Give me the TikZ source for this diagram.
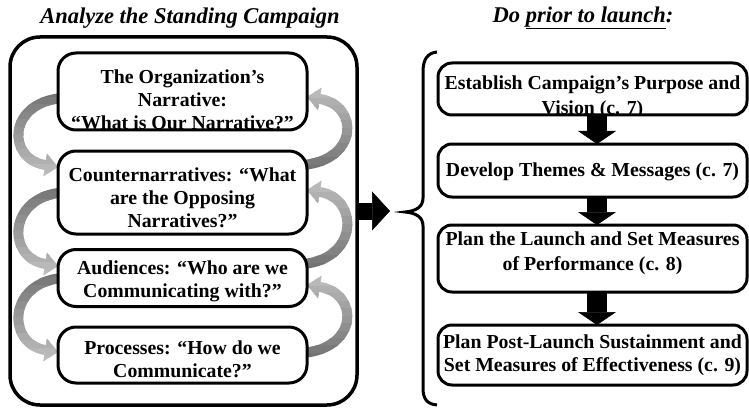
\documentclass[tikz,border=0pt]{standalone}
\usepackage{fontspec}
\setmainfont{Liberation Serif}
\usetikzlibrary{arrows.meta}
\tikzset{
  boxfill/.style={rectangle, rounded corners=#1, fill=white, inner sep=0pt, outer sep=0pt},
  border/.style={line width=3pt, rounded corners=#1},
  txt/.style={align=center, inner sep=0pt, font=\fontsize{19.8}{23}\selectfont\bfseries},
  ttl/.style={inner sep=0pt, font=\fontsize{22.5}{24}\selectfont\bfseries\itshape},
  grayarc/.style={line width=10pt, -{Triangle[width=23pt,length=13pt,line width=0.5pt]}},
  blockarrow/.style={line width=20pt, -{Triangle[width=38pt,length=13pt,line width=0.5pt]}}
}
\newcommand{\shadedarc}[5]{%
  \foreach \k in {0,...,11}{%
    \pgfmathsetmacro{\ya}{#1+(#2-#1)*\k/12-0.3}%
    \pgfmathsetmacro{\yb}{#1+(#2-#1)*(\k+1)/12+0.3}%
    \pgfmathtruncatemacro{\pc}{#3+(#4-#3)*\k/11}%
    \begin{scope}
      \clip (0,\ya) rectangle (749,\yb);
      \draw[grayarc, draw=black!\pc] #5;
    \end{scope}}}
\begin{document}
\begin{tikzpicture}[x=1pt,y=-1pt]
\useasboundingbox (0,0) rectangle (749,409);

% titles
\node[ttl] (t1) at (190,18) {Analyze the Standing Campaign};
\node[ttl] (t2) at (583,18) {Do \underline{prior to launch}:};

% outer box
\node[boxfill=30pt, draw, line width=3.5pt, minimum width=347pt, minimum height=368pt] (outer) at (183.5,221) {};

% inner boxes (fills)
\node[boxfill=18pt, minimum width=249pt, minimum height=77pt] (b1) at (182.5,91.5) {};
\node[boxfill=18pt, minimum width=249pt, minimum height=83pt] (b2) at (182.5,192.5) {};
\node[boxfill=18pt, minimum width=249pt, minimum height=57pt] (b3) at (182.5,278) {};
\node[boxfill=18pt, minimum width=249pt, minimum height=56pt] (b4) at (182.5,355) {};

% gray curved arrows, left side (downwards)
\shadedarc{90}{180}{55}{26}{([shift={(4pt,-6.5pt)}]b1.west) .. controls +(-55,5) and +(-51,-8) .. ([yshift=25.5pt]b2.west)}
\shadedarc{184}{279}{55}{26}{([xshift=4pt]b2.west) .. controls +(-55,5) and +(-51,-8) .. ([yshift=12pt]b3.west)}
\shadedarc{270}{365}{55}{26}{([xshift=4pt]b3.west) .. controls +(-55,5) and +(-51,-8) .. ([yshift=3pt]b4.west)}
% right side (upwards)
\shadedarc{84}{173}{26}{55}{([shift={(-4pt,27.5pt)}]b2.east) .. controls +(56,-5) and +(52,8) .. ([yshift=-5.5pt]b1.east)}
\shadedarc{177}{272}{26}{55}{([shift={(-4pt,14pt)}]b3.east) .. controls +(56,-5) and +(52,8) .. ([yshift=2.5pt]b2.east)}
\shadedarc{272}{361}{26}{55}{([shift={(-4pt,2pt)}]b4.east) .. controls +(56,-5) and +(52,8) .. ([yshift=-7pt]b3.east)}

% redraw inner fills over the arc tails
\fill[white, rounded corners=18pt] (b1.south west) rectangle (b1.north east);
\fill[white, rounded corners=18pt] (b2.south west) rectangle (b2.north east);
\fill[white, rounded corners=18pt] (b3.south west) rectangle (b3.north east);
\fill[white, rounded corners=18pt] (b4.south west) rectangle (b4.north east);

% right boxes (fills)
\node[boxfill=14pt, minimum width=309pt, minimum height=52pt] (rA) at (592.5,89) {};
\node[boxfill=14pt, minimum width=309pt, minimum height=53pt] (rB) at (592.5,170.5) {};
\node[boxfill=14pt, minimum width=309pt, minimum height=67pt] (rC) at (592.5,258.5) {};
\node[boxfill=14pt, minimum width=309pt, minimum height=60pt] (rD) at (592.5,355) {};

% texts, clipped to the box interiors
\begin{scope}
\clip[rounded corners=16pt] ([shift={(1.5pt,1.5pt)}]b1.south west) rectangle ([shift={(-1.5pt,-1.5pt)}]b1.north east);
\node[txt] (x1) at ([yshift=-8pt]b1.center) {The Organization’s\\Narrative:\\“What is Our Narrative?”};
\end{scope}
\begin{scope}
\clip[rounded corners=16pt] ([shift={(1.5pt,1.5pt)}]b2.south west) rectangle ([shift={(-1.5pt,-1.5pt)}]b2.north east);
\node[txt] (x2) at ([yshift=-5.5pt]b2.center) {Counternarratives: “What\\are the Opposing\\Narratives?”};
\end{scope}
\begin{scope}
\clip[rounded corners=16pt] ([shift={(1.5pt,1.5pt)}]b3.south west) rectangle ([shift={(-1.5pt,-1.5pt)}]b3.north east);
\node[txt] (x3) at ([yshift=-3pt]b3.center) {Audiences: “Who are we\\Communicating with?”};
\end{scope}
\begin{scope}
\clip[rounded corners=16pt] ([shift={(1.5pt,1.5pt)}]b4.south west) rectangle ([shift={(-1.5pt,-1.5pt)}]b4.north east);
\node[txt] (x4) at ([yshift=-4.5pt]b4.center) {Processes: “How do we\\Communicate?”};
\end{scope}
\begin{scope}
\clip[rounded corners=12pt] ([shift={(1.5pt,1.5pt)}]rA.south west) rectangle ([shift={(-1.5pt,-1.5pt)}]rA.north east);
\node[txt] (y1) at ([yshift=-8pt]rA.center) {Establish Campaign’s Purpose and\\[2pt]Vision (c. 7)};
\end{scope}
\node[txt] (y2) at ([yshift=-1.5pt]rB.center) {Develop Themes \& Messages (c. 7)};
\node[txt] (y3) at ([yshift=5pt]rC.center) {Plan the Launch and Set Measures\\[2pt]of Performance (c. 8)};
\node[txt] (y4) at ([yshift=-0.5pt]rD.center) {Plan Post-Launch Sustainment and\\Set Measures of Effectiveness (c. 9)};

% borders
\draw[border=18pt] (b1.south west) rectangle (b1.north east);
\draw[border=18pt] (b2.south west) rectangle (b2.north east);
\draw[border=18pt] (b3.south west) rectangle (b3.north east);
\draw[border=18pt] (b4.south west) rectangle (b4.north east);
\draw[border=14pt] (rA.south west) rectangle (rA.north east);
\draw[border=14pt] (rB.south west) rectangle (rB.north east);
\draw[border=14pt] (rC.south west) rectangle (rC.north east);
\draw[border=14pt] (rD.south west) rectangle (rD.north east);

% black block arrows between right boxes
\draw[blockarrow] ([xshift=4.5pt]rA.south) -- ([xshift=4.5pt]rB.north);
\draw[blockarrow] ([xshift=4.5pt]rB.south) -- ([xshift=4.5pt]rC.north);
\draw[blockarrow] ([xshift=4.5pt]rC.south) -- ([xshift=4.5pt]rD.north);

% big arrow from the outer box to the brace
\coordinate (brtip) at (390,211);
\draw[line width=17pt, -{Triangle[width=39pt,length=18pt,line width=0.5pt]}] (outer.east |- brtip) -- (brtip);

% curly brace
\draw[line width=3pt] (437,52) .. controls (427,53) and (423,60) .. (423,72) -- (423,198)
  .. controls (423,207) and (416,211) .. (405,212)
  .. controls (416,213) and (423,217) .. (423,226) -- (423,388)
  .. controls (423,399) and (427,404) .. (437,405);
\end{tikzpicture}
\end{document}
